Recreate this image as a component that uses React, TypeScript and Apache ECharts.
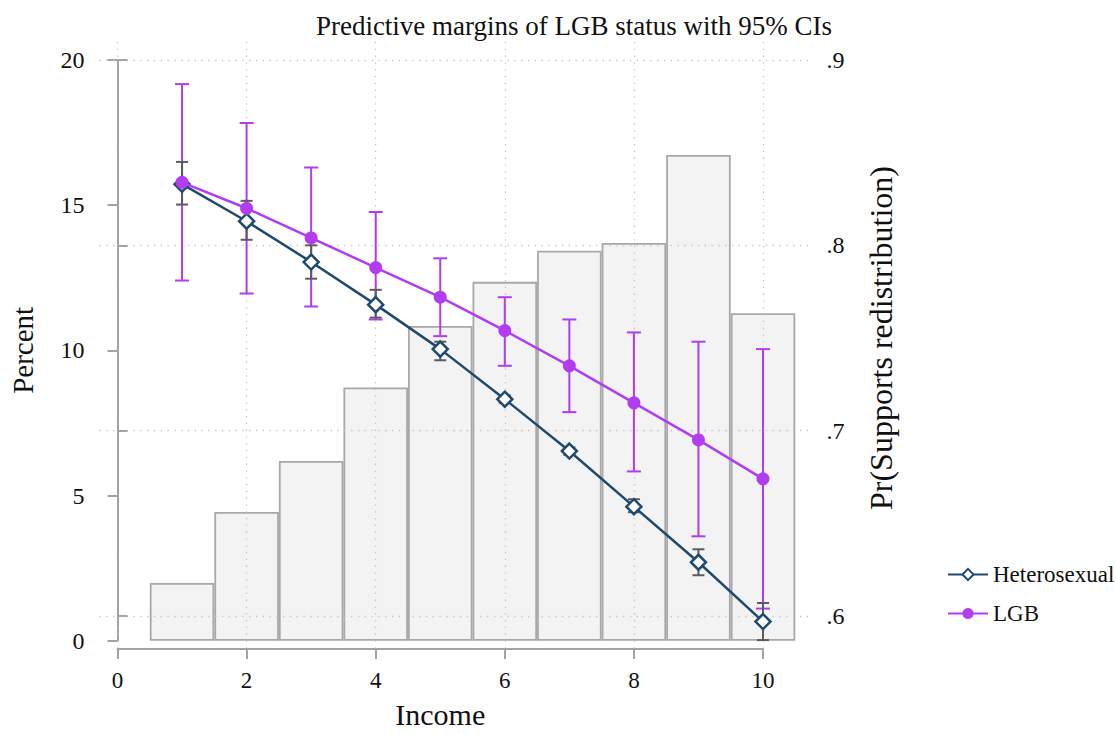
import React, { useEffect, useRef } from "react";
import * as echarts from "echarts";

// ---- data ----
const incomes = [1, 2, 3, 4, 5, 6, 7, 8, 9, 10];
const incomeShare = [1.99, 4.43, 6.19, 8.72, 10.84, 12.36, 13.43, 13.7, 16.73, 11.28];
const hetMargin = [0.833, 0.813, 0.791, 0.768, 0.744, 0.717, 0.689, 0.659, 0.629, 0.597];
const hetLower = [0.822, 0.803, 0.782, 0.761, 0.738, 0.715, 0.687, 0.656, 0.622, 0.587];
const hetUpper = [0.845, 0.824, 0.8, 0.776, 0.748, 0.719, 0.691, 0.663, 0.636, 0.607];
const lgbMargin = [0.834, 0.82, 0.804, 0.788, 0.772, 0.754, 0.735, 0.715, 0.695, 0.674];
const lgbLower = [0.781, 0.774, 0.767, 0.76, 0.751, 0.735, 0.71, 0.678, 0.643, 0.604];
const lgbUpper = [0.887, 0.866, 0.842, 0.818, 0.793, 0.772, 0.76, 0.753, 0.748, 0.744];
const seriesNames = ["Heterosexual", "LGB"];

const FONT = "'Liberation Serif', 'DejaVu Serif', serif";
const NAVY = "#1d4a6e";
const PURPLE = "#b23cf0";
const CI_GREY = "#5c5c5c";
const AXIS_GREY = "#a3a3a3";
const GRID_GREY = "#c4c4c4";

// plot geometry (pixels)
const PLOT_L = 99.5;
const PLOT_R = 812.5;
const X0 = 117.5;
const X10 = 763;
const UNIT = (X10 - X0) / 10;
const XMIN = -(X0 - PLOT_L) / UNIT;
const XMAX = (PLOT_R - X0) / UNIT;

const ciRender = (color: string, capHalf: number) => (params: any, api: any) => {
  const x = api.value(0);
  const lo = api.coord([x, api.value(1)]);
  const hi = api.coord([x, api.value(2)]);
  const style = { stroke: color, lineWidth: 2 };
  return {
    type: "group",
    children: [
      { type: "line", shape: { x1: lo[0], y1: lo[1], x2: hi[0], y2: hi[1] }, style },
      { type: "line", shape: { x1: lo[0] - capHalf, y1: lo[1], x2: lo[0] + capHalf, y2: lo[1] }, style },
      { type: "line", shape: { x1: hi[0] - capHalf, y1: hi[1], x2: hi[0] + capHalf, y2: hi[1] }, style },
    ],
  };
};

export default function App() {
  const ref = useRef<HTMLDivElement>(null);

  useEffect(() => {
    document.body.style.margin = "0";
    if (!ref.current) return;
    const chart = echarts.init(ref.current, null, { renderer: "svg" });

    const hiddenX = {
      type: "value",
      min: XMIN,
      max: XMAX,
      show: false,
    };

    const option: any = {
      animation: false,
      backgroundColor: "#ffffff",
      textStyle: { fontFamily: FONT },
      title: {
        text: "Predictive margins of LGB status with 95% CIs",
        left: 569,
        top: 7,
        textAlign: "center",
        textStyle: { fontFamily: FONT, fontSize: 27, fontWeight: "normal", color: "#111" },
      },
      legend: {
        orient: "vertical",
        left: 942,
        top: 558,
        itemWidth: 40,
        itemHeight: 14,
        itemGap: 16,
        data: seriesNames,
        textStyle: { fontFamily: FONT, fontSize: 23, color: "#111" },
      },
      grid: [
        { left: PLOT_L, top: 60, width: PLOT_R - PLOT_L, height: 580.7 },
        { left: PLOT_L, top: 60, width: PLOT_R - PLOT_L, height: 556 },
        { left: X0, top: 42, width: X10 - X0, height: 616 },
      ],
      xAxis: [
        { ...hiddenX, gridIndex: 0 },
        { ...hiddenX, gridIndex: 1 },
        {
          type: "value",
          gridIndex: 2,
          min: 0,
          max: 10,
          interval: 2,
          z: 3,
          name: "Income",
          nameLocation: "middle",
          nameGap: 50,
          nameTextStyle: { fontFamily: FONT, fontSize: 30, color: "#111" },
          axisLine: { show: true, lineStyle: { color: AXIS_GREY, width: 2 } },
          axisTick: { show: true, length: 10, lineStyle: { color: AXIS_GREY, width: 2 } },
          axisLabel: { margin: 20, fontFamily: FONT, fontSize: 23, color: "#111" },
          splitLine: { show: true, lineStyle: { color: GRID_GREY, type: [1.3, 5.5], width: 1.3 } },
        },
      ],
      yAxis: [
        {
          type: "value",
          gridIndex: 0,
          position: "left",
          min: 0,
          max: 20,
          interval: 5,
          name: "Percent",
          nameLocation: "middle",
          nameGap: 62,
          nameRotate: 90,
          nameTextStyle: { fontFamily: FONT, fontSize: 29, color: "#111" },
          axisLine: { show: true, lineStyle: { color: AXIS_GREY, width: 2 } },
          axisTick: { show: true, length: 10, lineStyle: { color: AXIS_GREY, width: 2 } },
          axisLabel: { margin: 15, fontFamily: FONT, fontSize: 24, color: "#111" },
          splitLine: { show: false },
        },
        {
          type: "value",
          gridIndex: 1,
          position: "right",
          min: 0.6,
          max: 0.9,
          interval: 0.1,
          z: 3,
          name: "Pr(Supports redistribution)",
          nameLocation: "middle",
          nameGap: 52,
          nameRotate: 90,
          nameTextStyle: { fontFamily: FONT, fontSize: 32, color: "#111" },
          axisLine: { show: true, lineStyle: { color: AXIS_GREY, width: 2 } },
          axisTick: { show: true, length: 10, lineStyle: { color: AXIS_GREY, width: 2 } },
          axisLabel: {
            margin: 14,
            fontFamily: FONT,
            fontSize: 24,
            color: "#111",
            formatter: (v: number) => v.toFixed(1).replace(/^0/, ""),
          },
          splitLine: { show: true, lineStyle: { color: GRID_GREY, type: [1.3, 5.5], width: 1.3 } },
        },
        { type: "value", gridIndex: 2, show: false, min: 0, max: 1 },
      ],
      series: [
        {
          type: "bar",
          name: "Income share",
          xAxisIndex: 0,
          yAxisIndex: 0,
          z: 1,
          barWidth: UNIT,
          data: incomes.map((x, i) => [x, incomeShare[i]]),
          itemStyle: { color: "#f3f3f3", borderColor: "#a8a8a8", borderWidth: 1.8 },
        },
        {
          type: "custom",
          name: "LGB CI",
          xAxisIndex: 1,
          yAxisIndex: 1,
          z: 4,
          clip: false,
          renderItem: ciRender(PURPLE, 7),
          encode: { x: 0, y: [1, 2] },
          data: incomes.map((x, i) => [x, lgbLower[i], lgbUpper[i]]),
        },
        {
          type: "custom",
          name: "Heterosexual CI",
          xAxisIndex: 1,
          yAxisIndex: 1,
          z: 4,
          clip: false,
          renderItem: ciRender(CI_GREY, 6),
          encode: { x: 0, y: [1, 2] },
          data: incomes.map((x, i) => [x, hetLower[i], hetUpper[i]]),
        },
        {
          type: "line",
          name: seriesNames[0],
          xAxisIndex: 1,
          yAxisIndex: 1,
          z: 5,
          clip: false,
          data: incomes.map((x, i) => [x, hetMargin[i]]),
          symbol: "diamond",
          symbolSize: 15,
          color: NAVY,
          lineStyle: { color: NAVY, width: 2.5 },
          itemStyle: { color: "#ffffff", borderColor: NAVY, borderWidth: 2.5 },
        },
        {
          type: "line",
          name: seriesNames[1],
          xAxisIndex: 1,
          yAxisIndex: 1,
          z: 6,
          clip: false,
          data: incomes.map((x, i) => [x, lgbMargin[i]]),
          symbol: "circle",
          symbolSize: 13,
          color: PURPLE,
          lineStyle: { color: PURPLE, width: 2.5 },
          itemStyle: { color: PURPLE, borderWidth: 0 },
        },
      ],
    };

    chart.setOption(option);
    return () => chart.dispose();
  }, []);

  return <div ref={ref} style={{ width: 1116, height: 734 }} />;
}
